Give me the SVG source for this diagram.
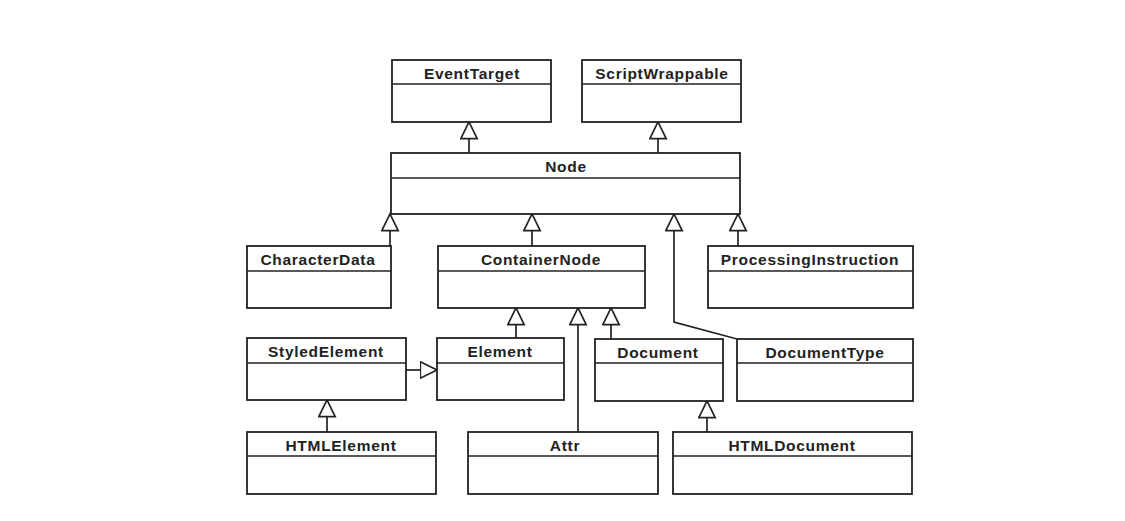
<svg xmlns="http://www.w3.org/2000/svg" width="1125" height="521" viewBox="0 0 1125 521">
<style>
.box{fill:#fff;stroke:#222;stroke-width:1.8}
.div{stroke:#222;stroke-width:1.6}
.lbl{font-family:"Liberation Sans",Arial,sans-serif;font-weight:bold;font-size:15.5px;letter-spacing:0.7px;fill:#222;text-anchor:middle}
.conn{fill:none;stroke:#222;stroke-width:1.7;marker-end:url(#gen)}
</style>
<defs>
<marker id="gen" viewBox="0 0 20 20" refX="17.5" refY="9" markerWidth="20" markerHeight="20" markerUnits="userSpaceOnUse" orient="auto">
<path d="M0.8,0.8 L17.5,9 L0.8,17.2 Z" fill="#fff" stroke="#222" stroke-width="1.7"/>
</marker>
</defs>
<rect width="1125" height="521" fill="#fff"/>
<g id="connectors">
<path class="conn" d="M469,153 L469,122"/>
<path class="conn" d="M658,153 L658,122"/>
<path class="conn" d="M390,246 L390,214"/>
<path class="conn" d="M532,246 L532,214"/>
<path class="conn" d="M737,339 L674,322 L674,214"/>
<path class="conn" d="M738,246 L738,214"/>
<path class="conn" d="M516,338 L516,308"/>
<path class="conn" d="M578,432 L578,308"/>
<path class="conn" d="M611,339 L611,308"/>
<path class="conn" d="M406,370 L437,370"/>
<path class="conn" d="M327,432 L327,400"/>
<path class="conn" d="M707,432 L707,401"/>
</g>
<g id="EventTarget"><rect class="box" x="392" y="60" width="159" height="62"/><line class="div" x1="392" y1="84" x2="551" y2="84"/><text class="lbl" x="472" y="78.5">EventTarget</text></g>
<g id="ScriptWrappable"><rect class="box" x="582" y="60" width="159" height="62"/><line class="div" x1="582" y1="84" x2="741" y2="84"/><text class="lbl" x="662" y="78.5">ScriptWrappable</text></g>
<g id="Node"><rect class="box" x="391" y="153" width="349" height="61"/><line class="div" x1="391" y1="178" x2="740" y2="178"/><text class="lbl" x="566" y="171.5">Node</text></g>
<g id="CharacterData"><rect class="box" x="247" y="246" width="144" height="62"/><line class="div" x1="247" y1="271" x2="391" y2="271"/><text class="lbl" x="318" y="264.5">CharacterData</text></g>
<g id="ContainerNode"><rect class="box" x="438" y="246" width="207" height="62"/><line class="div" x1="438" y1="271" x2="645" y2="271"/><text class="lbl" x="541" y="264.5">ContainerNode</text></g>
<g id="ProcessingInstruction"><rect class="box" x="708" y="246" width="205" height="62"/><line class="div" x1="708" y1="271" x2="913" y2="271"/><text class="lbl" x="810" y="264.5">ProcessingInstruction</text></g>
<g id="StyledElement"><rect class="box" x="247" y="338" width="159" height="62"/><line class="div" x1="247" y1="363" x2="406" y2="363"/><text class="lbl" x="326" y="357">StyledElement</text></g>
<g id="Element"><rect class="box" x="437" y="338" width="127" height="62"/><line class="div" x1="437" y1="363" x2="564" y2="363"/><text class="lbl" x="500" y="357">Element</text></g>
<g id="Document"><rect class="box" x="595" y="339" width="128" height="62"/><line class="div" x1="595" y1="363" x2="723" y2="363"/><text class="lbl" x="658" y="357.5">Document</text></g>
<g id="DocumentType"><rect class="box" x="737" y="339" width="176" height="62"/><line class="div" x1="737" y1="363" x2="913" y2="363"/><text class="lbl" x="825" y="357.5">DocumentType</text></g>
<g id="HTMLElement"><rect class="box" x="247" y="432" width="189" height="62"/><line class="div" x1="247" y1="456" x2="436" y2="456"/><text class="lbl" x="341" y="450.5">HTMLElement</text></g>
<g id="Attr"><rect class="box" x="468" y="432" width="190" height="62"/><line class="div" x1="468" y1="456" x2="658" y2="456"/><text class="lbl" x="565" y="450.5">Attr</text></g>
<g id="HTMLDocument"><rect class="box" x="673" y="432" width="239" height="62"/><line class="div" x1="673" y1="456" x2="912" y2="456"/><text class="lbl" x="792" y="450.5">HTMLDocument</text></g>
</svg>
